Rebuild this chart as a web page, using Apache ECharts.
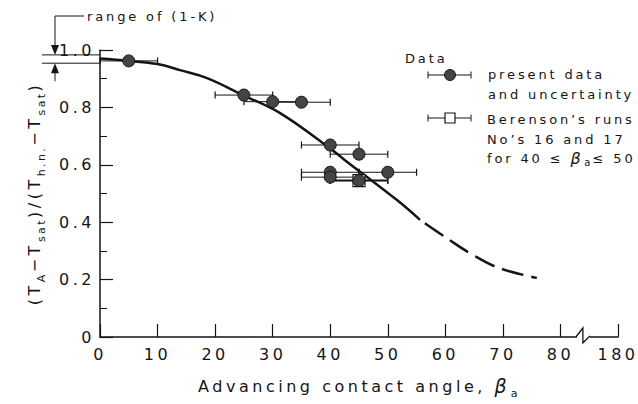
<!DOCTYPE html>
<html>
<head>
<meta charset="utf-8">
<script src="https://cdn.jsdelivr.net/npm/echarts@6/dist/echarts.min.js"></script>
<style>
  html, body { margin: 0; background: #fff; }
  #chart { width: 638px; height: 404px; }
  /* the printed figure uses very wide tracking */
  #chart svg text { letter-spacing: 0.22em; }
</style>
</head>
<body>
<div id="chart"></div>
<script>
// correlation curve: solid part, then dashed extrapolation
const curveSolid = [[0, 0.970], [5, 0.962], [10, 0.951], [13.9, 0.930], [18.6, 0.902], [24.8, 0.843],
  [31.3, 0.780], [40.3, 0.652], [42.5, 0.617], [51.6, 0.477], [55.6, 0.408]];
const curveDashed = [[55.6, 0.408], [60.2, 0.345], [64.8, 0.286], [69.4, 0.240], [75.9, 0.206]];

// present data with uncertainty: [angle, value, low angle, high angle]
const presentData = [
  [5, 0.962, 0, 10],
  [25, 0.843, 20, 30],
  [30, 0.820, 25, 35],
  [35, 0.818, 30, 40],
  [40, 0.669, 35, 45],
  [45, 0.637, 40, 50],
  [40, 0.574, 35, 45],
  [50, 0.574, 45, 55],
  [40, 0.557, 35, 45],
  [45, 0.545, 40, 50]
];
// Berenson's runs No's 16 and 17
const berensonData = [[45, 0.545, 40, 50]];

// axis labels (the last x slot stands for 180 after the break)
const xLabels = ['0', '10', '20', '30', '40', '50', '60', '70', '80', '180'];
const yLabels = ['0', '0.2', '0.4', '0.6', '0.8', '1.0'];
const breakAt = 83.9;
// range of (1-K)
const kRange = [0.954, 0.983];

const INK = '#151515';
const FONT = 'DejaVu Sans';
const TRACK = 0.22;

// let echarts measure text with the same tracking as the css rule above
const measureCtx = document.createElement('canvas').getContext('2d');
echarts.setPlatformAPI({
  measureText: function (text, font) {
    measureCtx.font = font || '12px sans-serif';
    const m = measureCtx.measureText(text);
    const px = /(\d+(?:\.\d+)?)px/.exec(measureCtx.font);
    const size = px ? parseFloat(px[1]) : 12;
    return {
      width: m.width + text.length * TRACK * size,
      actualBoundingBoxAscent: m.actualBoundingBoxAscent,
      actualBoundingBoxDescent: m.actualBoundingBoxDescent,
      actualBoundingBoxLeft: m.actualBoundingBoxLeft,
      actualBoundingBoxRight: m.actualBoundingBoxRight + text.length * TRACK * size,
      fontBoundingBoxAscent: m.fontBoundingBoxAscent,
      fontBoundingBoxDescent: m.fontBoundingBoxDescent
    };
  }
});

const M = { fontSize: 16, fontFamily: FONT, color: INK, fill: INK, lineHeight: 28, verticalAlign: 'middle' };
const nameRich = {
  m: M,
  s: { fontSize: 11, fontFamily: FONT, color: INK, fill: INK, lineHeight: 11, verticalAlign: 'bottom' },
  b: { fontSize: 19, fontFamily: FONT, fontStyle: 'italic', color: INK, fill: INK, lineHeight: 28, verticalAlign: 'middle' }
};
const legendRich = {
  m: { fontSize: 13, fontFamily: FONT, color: INK, fill: INK, lineHeight: 22, verticalAlign: 'middle' },
  s: { fontSize: 10, fontFamily: FONT, color: INK, fill: INK, lineHeight: 9, verticalAlign: 'bottom' },
  b: { fontSize: 16, fontFamily: FONT, fontStyle: 'italic', color: INK, fill: INK, lineHeight: 22, verticalAlign: 'middle' }
};

function errorBar(width) {
  return function (params, api) {
    const y = api.value(1);
    const lo = api.coord([api.value(2), y]);
    const hi = api.coord([api.value(3), y]);
    const cap = { stroke: INK, lineWidth: 1.2 };
    return {
      type: 'group',
      children: [
        { type: 'line', shape: { x1: lo[0], y1: lo[1], x2: hi[0], y2: hi[1] }, style: { stroke: INK, lineWidth: width } },
        { type: 'line', shape: { x1: lo[0], y1: lo[1] - 3.5, x2: lo[0], y2: lo[1] + 3.5 }, style: cap },
        { type: 'line', shape: { x1: hi[0], y1: hi[1] - 3.5, x2: hi[0], y2: hi[1] + 3.5 }, style: cap }
      ]
    };
  };
}

const chart = echarts.init(document.getElementById('chart'), null, { renderer: 'svg' });
chart.setOption({
  animation: false,
  backgroundColor: '#fff',
  grid: { left: 100, right: 20, top: 50, bottom: 67, containLabel: false, outerBoundsMode: 'none' },
  xAxis: {
    type: 'value', min: 0, max: 90, interval: 10,
    axisLine: { lineStyle: { color: INK, width: 1.5 } },
    axisTick: { inside: true, length: 13, lineStyle: { color: INK, width: 1.2 } },
    axisLabel: {
      margin: 8, color: INK, fontSize: 16, fontFamily: FONT,
      formatter: function (v) { return xLabels[Math.round(v / 10)]; }
    },
    splitLine: { show: false },
    name: 'Advancing contact angle, {b|β}{s|a}', nameLocation: 'middle', nameGap: 49,
    nameTextStyle: Object.assign({ rich: nameRich }, M)
  },
  yAxis: {
    type: 'value', min: 0, max: 1, interval: 0.2,
    axisLine: { lineStyle: { color: INK, width: 1.5 } },
    axisTick: { inside: true, length: 13, lineStyle: { color: INK, width: 1.2 } },
    minorTick: { show: true, splitNumber: 2, length: 7, lineStyle: { color: INK, width: 1 } },
    axisLabel: {
      margin: 5, color: INK, fontSize: 16, fontFamily: FONT,
      formatter: function (v) { return yLabels[Math.round(v * 5)]; }
    },
    splitLine: { show: false },
    name: '(T{s|A}−T{s|sat}){m|/(T}{s|h.n.}−T{s|sat})',
    nameLocation: 'middle', nameGap: 64, nameRotate: 90,
    nameTextStyle: Object.assign({ rich: nameRich }, M)
  },
  series: [
    {
      type: 'custom', name: 'present bars', data: presentData, z: 2,
      encode: { x: 0, y: 1 }, renderItem: errorBar(1)
    },
    {
      type: 'custom', name: 'berenson bars', data: berensonData, z: 2,
      encode: { x: 0, y: 1 }, renderItem: errorBar(2)
    },
    {
      type: 'line', name: 'curve', data: curveSolid, smooth: 0.4, showSymbol: false, z: 3,
      lineStyle: { color: INK, width: 2.5 }
    },
    {
      type: 'line', name: 'curve ext', data: curveDashed, smooth: 0.4, showSymbol: false, z: 3,
      lineStyle: { color: INK, width: 2.5, type: [22, 8], dashOffset: 24 }
    },
    {
      type: 'scatter', name: 'Berenson', data: berensonData, symbol: 'rect', symbolSize: 12, z: 4,
      itemStyle: { color: '#fff', borderColor: INK, borderWidth: 1.2, opacity: 1 }
    },
    {
      type: 'scatter', name: 'present', data: presentData, symbol: 'circle', symbolSize: 12, z: 5,
      itemStyle: { color: '#444', borderColor: INK, borderWidth: 1, opacity: 1 }
    }
  ]
});

// annotations placed through the axes
const x0 = chart.convertToPixel({ xAxisIndex: 0 }, 0);
const y0 = chart.convertToPixel({ yAxisIndex: 0 }, 0);
const yTop = chart.convertToPixel({ yAxisIndex: 0 }, kRange[1]);
const yBot = chart.convertToPixel({ yAxisIndex: 0 }, kRange[0]);
const xb = chart.convertToPixel({ xAxisIndex: 0 }, breakAt);

const thin = { stroke: INK, lineWidth: 1, fill: null };
function txt(x, y, s, size) {
  return {
    type: 'text', x: x, y: y, z: 10,
    style: { text: s, font: size + 'px "' + FONT + '"', fill: INK, verticalAlign: 'middle', textVerticalAlign: 'middle' }
  };
}

chart.setOption({
  graphic: [
    // range of (1-K)
    txt(87, 16, 'range of (1-K)', 13),
    { type: 'polyline', z: 10, shape: { points: [[84, 16], [55, 16], [55, yTop - 9]] }, style: thin },
    { type: 'polygon', z: 10, shape: { points: [[51, yTop - 10], [59, yTop - 10], [55, yTop]] }, style: { fill: INK } },
    { type: 'line', z: 10, shape: { x1: 42, y1: yTop, x2: x0, y2: yTop }, style: thin },
    { type: 'line', z: 10, shape: { x1: 42, y1: yBot, x2: x0, y2: yBot }, style: thin },
    { type: 'line', z: 10, shape: { x1: 55, y1: yBot + 18, x2: 55, y2: yBot + 9 }, style: thin },
    { type: 'polygon', z: 10, shape: { points: [[51, yBot + 10], [59, yBot + 10], [55, yBot]] }, style: { fill: INK } },
    // axis break
    { type: 'rect', z: 10, shape: { x: xb - 6, y: y0 - 3, width: 13, height: 6 }, style: { fill: '#fff' } },
    { type: 'polyline', z: 11, shape: { points: [[xb - 7, y0], [xb, y0 - 9], [xb, y0 + 6], [xb + 7, y0 - 1]] }, style: { stroke: INK, lineWidth: 1.3, fill: null } },
    // legend
    txt(405, 58, 'Data', 13),
    { type: 'line', z: 10, shape: { x1: 428, y1: 75, x2: 471, y2: 75 }, style: thin },
    { type: 'line', z: 10, shape: { x1: 428, y1: 71.5, x2: 428, y2: 78.5 }, style: thin },
    { type: 'line', z: 10, shape: { x1: 471, y1: 71.5, x2: 471, y2: 78.5 }, style: thin },
    { type: 'circle', z: 11, shape: { cx: 450, cy: 75, r: 5.5 }, style: { fill: '#444', stroke: INK, lineWidth: 1 } },
    txt(488, 74, 'present data', 13),
    txt(488, 94, 'and uncertainty', 13),
    { type: 'line', z: 10, shape: { x1: 428, y1: 118, x2: 471, y2: 118 }, style: thin },
    { type: 'line', z: 10, shape: { x1: 428, y1: 114.5, x2: 428, y2: 121.5 }, style: thin },
    { type: 'line', z: 10, shape: { x1: 471, y1: 114.5, x2: 471, y2: 121.5 }, style: thin },
    { type: 'rect', z: 11, shape: { x: 445, y: 113, width: 10, height: 10 }, style: { fill: '#fff', stroke: INK, lineWidth: 1.2 } },
    txt(487, 119, 'Berenson’s runs', 13),
    txt(487, 139, 'No’s 16 and 17', 13),
    {
      type: 'text', x: 487, y: 158, z: 10,
      style: {
        text: '{m|for 40 ≤ }{b|β}{s|a}{m|≤ 50}', rich: legendRich,
        fill: INK, verticalAlign: 'middle', textVerticalAlign: 'middle'
      }
    }
  ]
});
</script>
</body>
</html>
